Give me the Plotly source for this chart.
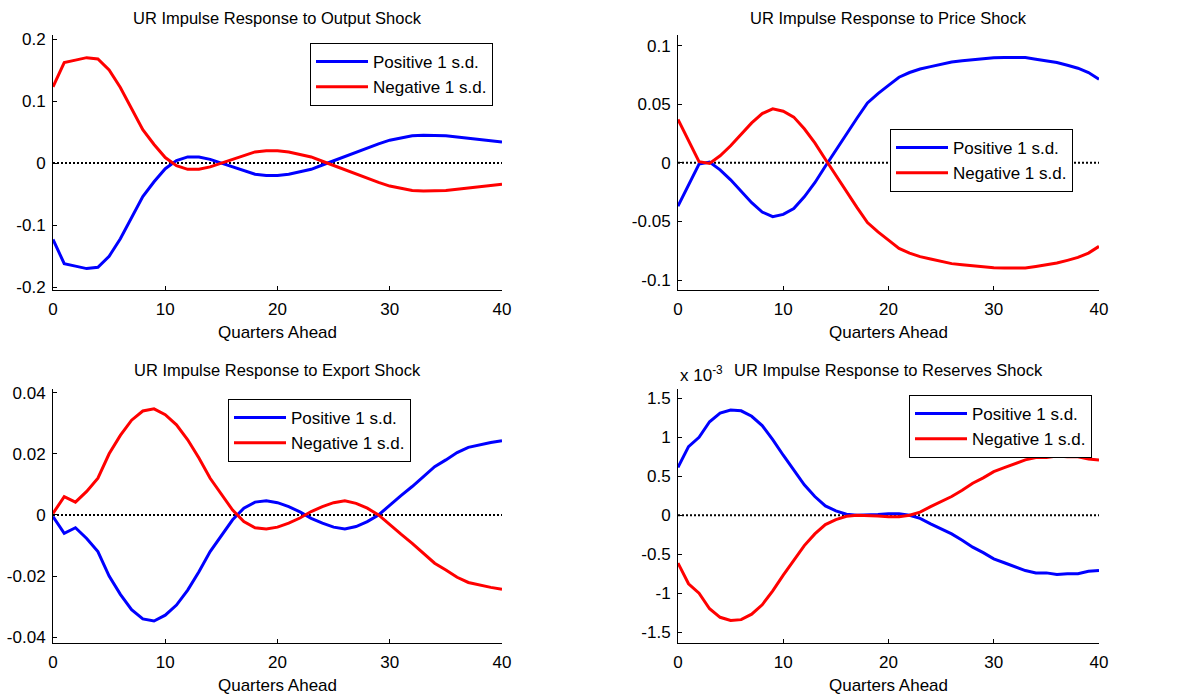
import plotly.graph_objects as go

quarters = list(range(41))

output_pos = [-0.123, -0.162, -0.166, -0.170, -0.168, -0.150, -0.122, -0.089, -0.054, -0.030,
              -0.009, 0.004, 0.010, 0.010, 0.006, 0.000, -0.006, -0.012, -0.018, -0.020,
              -0.020, -0.018, -0.014, -0.010, -0.003, 0.004, 0.010, 0.017, 0.024, 0.031,
              0.037, 0.041, 0.044, 0.045, 0.045, 0.044, 0.042, 0.040, 0.038, 0.036, 0.034]
output_neg = [0.123, 0.162, 0.166, 0.170, 0.168, 0.150, 0.122, 0.089, 0.054, 0.030,
              0.009, -0.004, -0.010, -0.010, -0.006, 0.000, 0.006, 0.012, 0.018, 0.020,
              0.020, 0.018, 0.014, 0.010, 0.003, -0.004, -0.010, -0.017, -0.024, -0.031,
              -0.037, -0.041, -0.044, -0.045, -0.045, -0.044, -0.042, -0.040, -0.038, -0.036, -0.034]

price_pos = [-0.037, -0.019, -0.001, 0.0006, -0.006, -0.0145, -0.024, -0.034, -0.042, -0.046,
             -0.044, -0.039, -0.029, -0.017, -0.003, 0.011, 0.024, 0.038, 0.051, 0.059,
             0.066, 0.073, 0.077, 0.080, 0.082, 0.084, 0.086, 0.087, 0.088, 0.0886,
             0.0895, 0.0898, 0.0898, 0.0898, 0.0884, 0.0872, 0.0855, 0.0832, 0.0807, 0.077, 0.0713]
price_neg = [0.037, 0.019, 0.001, -0.0006, 0.006, 0.0145, 0.024, 0.034, 0.042, 0.046,
             0.044, 0.039, 0.029, 0.017, 0.003, -0.011, -0.024, -0.038, -0.051, -0.059,
             -0.066, -0.073, -0.077, -0.080, -0.082, -0.084, -0.086, -0.087, -0.088, -0.0886,
             -0.0895, -0.0898, -0.0898, -0.0898, -0.0884, -0.0872, -0.0855, -0.0832, -0.0807, -0.077, -0.0713]

export_pos = [-0.0005, -0.0060, -0.0042, -0.0077, -0.0120, -0.0200, -0.0260, -0.0310, -0.0340, -0.0347,
              -0.0328, -0.0295, -0.0246, -0.0186, -0.0120, -0.0066, -0.0016, 0.0022, 0.0042, 0.0046,
              0.0040, 0.0027, 0.0010, -0.0011, -0.0027, -0.0040, -0.0046, -0.0038, -0.0022, 0.0000,
              0.0033, 0.0063, 0.0093, 0.0126, 0.0158, 0.0180, 0.0204, 0.0221, 0.0230, 0.0237, 0.0243]
export_neg = [0.0005, 0.0060, 0.0042, 0.0077, 0.0120, 0.0200, 0.0260, 0.0310, 0.0340, 0.0347,
              0.0328, 0.0295, 0.0246, 0.0186, 0.0120, 0.0066, 0.0016, -0.0022, -0.0042, -0.0046,
              -0.0040, -0.0027, -0.0010, 0.0011, 0.0027, 0.0040, 0.0046, 0.0038, 0.0022, 0.0000,
              -0.0033, -0.0063, -0.0093, -0.0126, -0.0158, -0.0180, -0.0204, -0.0221, -0.0230, -0.0237, -0.0243]

# reserves shock responses, in units of 1e-3
reserves_pos = [0.614, 0.88, 1.00, 1.20, 1.31, 1.35, 1.34, 1.27, 1.15, 0.97,
                0.77, 0.58, 0.39, 0.24, 0.12, 0.056, 0.013, 0.0, 0.0, 0.009,
                0.02, 0.02, 0.0, -0.04, -0.11, -0.17, -0.24, -0.32, -0.41, -0.48,
                -0.56, -0.61, -0.665, -0.71, -0.74, -0.74, -0.76, -0.75, -0.75, -0.72, -0.71]
reserves_neg = [-0.614, -0.88, -1.00, -1.20, -1.31, -1.35, -1.34, -1.27, -1.15, -0.97,
                -0.77, -0.58, -0.39, -0.24, -0.12, -0.056, -0.013, 0.0, 0.0, -0.009,
                -0.02, -0.02, 0.0, 0.04, 0.11, 0.17, 0.24, 0.32, 0.41, 0.48,
                0.56, 0.61, 0.665, 0.71, 0.74, 0.74, 0.76, 0.75, 0.75, 0.72, 0.71]

titles = ["UR Impulse Response to Output Shock", "UR Impulse Response to Price Shock",
          "UR Impulse Response to Export Shock", "UR Impulse Response to Reserves Shock"]
series_names = ["Positive 1 s.d.", "Negative 1 s.d."]
x_title = "Quarters Ahead"

y_tickvals = [[-0.2, -0.1, 0, 0.1, 0.2],
              [-0.1, -0.05, 0, 0.05, 0.1],
              [-0.04, -0.02, 0, 0.02, 0.04],
              [-1.5, -1, -0.5, 0, 0.5, 1, 1.5]]
y_ticktext = [["-0.2", "-0.1", "0", "0.1", "0.2"],
              ["-0.1", "-0.05", "0", "0.05", "0.1"],
              ["-0.04", "-0.02", "0", "0.02", "0.04"],
              ["-1.5", "-1", "-0.5", "0", "0.5", "1", "1.5"]]
y_ranges = [[-0.2045, 0.2065], [-0.1085, 0.109], [-0.0419, 0.0412], [-1.64, 1.62]]

data_pos = [output_pos, price_pos, export_pos, reserves_pos]
data_neg = [output_neg, price_neg, export_neg, reserves_neg]

W, H = 1196, 696
FONT = "Arial, 'Liberation Sans', sans-serif"
BLUE, RED = "#0000ff", "#ff0000"

# panel boxes in pixels: (left, right, top, bottom)
boxes = [(53, 502, 35, 290), (678, 1099, 35, 290), (53, 502, 389, 643), (678, 1099, 389, 643)]
legend_pos = [(493, 43), (1073, 129), (411, 399), (1092, 395)]
title_y = [18, 18, 370, 370]

fig = go.Figure()
layout = dict(width=W, height=H, margin=dict(l=0, r=0, t=0, b=0, autoexpand=False),
              paper_bgcolor="white", plot_bgcolor="white", template="none",
              font=dict(family=FONT, size=17, color="black"), annotations=[])

for i in range(4):
    xa = "x" if i == 0 else f"x{i+1}"
    ya = "y" if i == 0 else f"y{i+1}"
    lg = "legend" if i == 0 else f"legend{i+1}"
    fig.add_trace(go.Scatter(x=[0, 40], y=[0, 0], mode="lines", xaxis=xa, yaxis=ya,
                             line=dict(color="black", width=2, dash="2px,2px"),
                             showlegend=False, hoverinfo="skip"))
    fig.add_trace(go.Scatter(x=quarters, y=data_pos[i], mode="lines", name=series_names[0],
                             xaxis=xa, yaxis=ya, legend=lg, line=dict(color=BLUE, width=3)))
    fig.add_trace(go.Scatter(x=quarters, y=data_neg[i], mode="lines", name=series_names[1],
                             xaxis=xa, yaxis=ya, legend=lg, line=dict(color=RED, width=3)))
    l, r, t, b = boxes[i]
    xkey = "xaxis" if i == 0 else f"xaxis{i+1}"
    ykey = "yaxis" if i == 0 else f"yaxis{i+1}"
    layout[xkey] = dict(domain=[l / W, r / W], range=[0, 40], anchor=ya, automargin=False,
                        tickvals=[0, 10, 20, 30, 40], ticks="inside", ticklen=4,
                        tickcolor="black", showline=True, linecolor="black", linewidth=1,
                        showgrid=False, zeroline=False, mirror=False, ticklabelstandoff=4,
                        tickfont=dict(size=17, family=FONT),
                        title=dict(text=x_title, font=dict(size=17, family=FONT), standoff=7))
    layout[ykey] = dict(domain=[1 - b / H, 1 - t / H], range=y_ranges[i], anchor=xa,
                        automargin=False,
                        tickvals=y_tickvals[i], ticktext=y_ticktext[i], ticks="inside",
                        ticklen=4, tickcolor="black", showline=True, linecolor="black",
                        linewidth=1, showgrid=False, zeroline=False, ticklabelstandoff=3,
                        tickfont=dict(size=17, family=FONT))
    lx, ly = legend_pos[i]
    layout[lg] = dict(x=lx / W, y=1 - ly / H, xanchor="right", yanchor="top",
                      xref="paper", yref="paper",
                      bgcolor="white", bordercolor="black", borderwidth=1,
                      font=dict(size=17, family=FONT), itemwidth=52,
                      tracegroupgap=0)
    layout["annotations"].append(dict(text=titles[i], x=(l + r) / 2 / W, y=1 - title_y[i] / H,
                                      xref="paper", yref="paper", xanchor="center",
                                      yanchor="middle", showarrow=False,
                                      font=dict(size=16.5, family=FONT)))

layout["annotations"].append(dict(text="x 10<sup>-3</sup>", x=678 / W, y=1 - 374 / H,
                                  xref="paper", yref="paper", xanchor="left", yanchor="middle",
                                  showarrow=False, font=dict(size=17, family=FONT)))

fig.update_layout(**layout)
fig.write_html("out.html")
